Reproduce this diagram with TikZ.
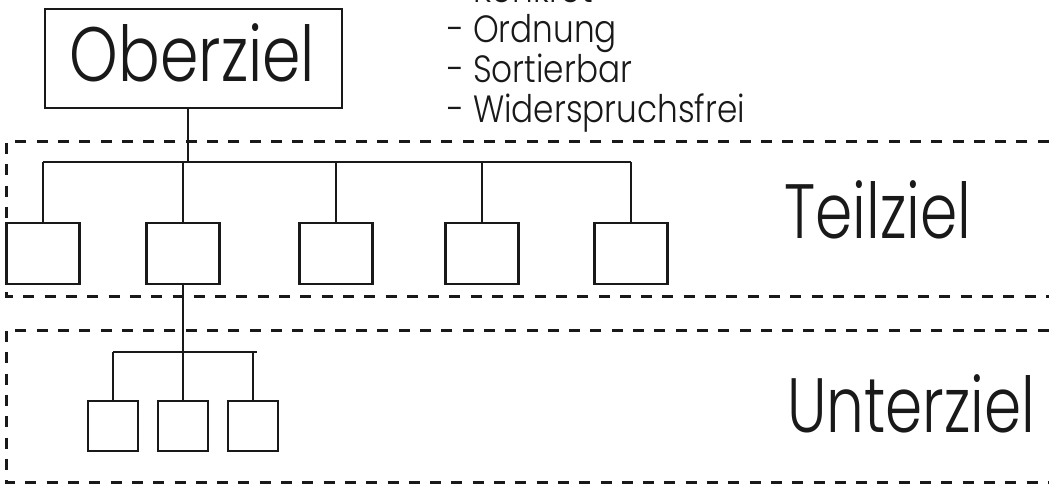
\documentclass[tikz,border=0pt]{standalone}
\usepackage{fontspec}
\setmainfont{Poppins Light}
\usepackage{graphicx}
\newlength\wlen
\newcommand\listfont{\fontsize{38}{40}\selectfont}
\newcommand\bigfont{\fontsize{77}{80}\selectfont}
\newcommand\lt[1]{\scalebox{\lsx}[1]{\listfont #1}}
\newcommand\bt[2]{\resizebox{#1}{\height}{\bigfont #2}}
\AtBeginDocument{\settowidth\wlen{\listfont - Widerspruchsfrei}\pgfmathsetmacro\lsx{298/\wlen}}
\tikzset{
  solidline/.style={line width=2.2pt, draw=black!90},
  dashline/.style={line width=3pt, draw=black!90, dash pattern=on 11pt off 10.3pt},
  sbox/.style={draw=black!90, line width=2.2pt, rectangle, inner sep=0pt, fill=white},
  txt/.style={inner sep=0pt, anchor=base west, text=black!90},
}
\begin{document}
\begin{tikzpicture}[x=1pt,y=-1pt]
\useasboundingbox (0,0) rectangle (1049,484);
\clip (0,0) rectangle (1049,484);
% dashed zones
\draw[dashline] (1070,142) -- (6,142) -- (6,296) -- (1070,296);
\draw[dashline] (1070,330) -- (6,330) -- (6,482) -- (1070,482);
% top box
\node[sbox, minimum width=297pt, minimum height=99pt] (ober) at (193.5,58.5) {};
\node[txt, anchor=base] (obertxt) at (192.5,82) {\bt{245pt}{Oberziel}};
% list
\node[txt] (l1) at (447,3) {\lt{- Konkret}};
\node[txt] (l2) at (447,43) {\lt{- Ordnung}};
\node[txt] (l3) at (447,83) {\lt{- Sortierbar}};
\node[txt] (l4) at (447,123) {\lt{- Widerspruchsfrei}};
% level labels
\node[txt] (teil) at (784,238) {\bt{187pt}{Teilziel}};
\node[txt] (unter) at (787,432) {\bt{248pt}{Unterziel}};
% Teilziel boxes
\foreach \n/\x in {b1/43,b2/183,b3/336,b4/482,b5/631}
  \node[sbox, minimum width=73pt, minimum height=61pt] (\n) at (\x,253.5) {};
\coordinate (hub) at (188,162);
\draw[solidline] (hub |- ober.south) -- (hub);
\draw[solidline] (b1.north |- hub) -- (b5.north |- hub);
\foreach \n in {b1,b2,b3,b4,b5}
  \draw[solidline] (\n.north |- hub) -- (\n.north);
% Unterziel boxes
\foreach \n/\x in {s1/113,s2/183,s3/253}
  \node[sbox, minimum width=50pt, minimum height=50pt] (\n) at (\x,426) {};
\coordinate (subhub) at (183,352);
\draw[solidline] (b2.south) -- (subhub);
\draw[solidline] (s1.north |- subhub) -- ([xshift=4pt]s3.north |- subhub);
\foreach \n in {s1,s2,s3}
  \draw[solidline] (\n.north |- subhub) -- (\n.north);
\end{tikzpicture}
\end{document}
